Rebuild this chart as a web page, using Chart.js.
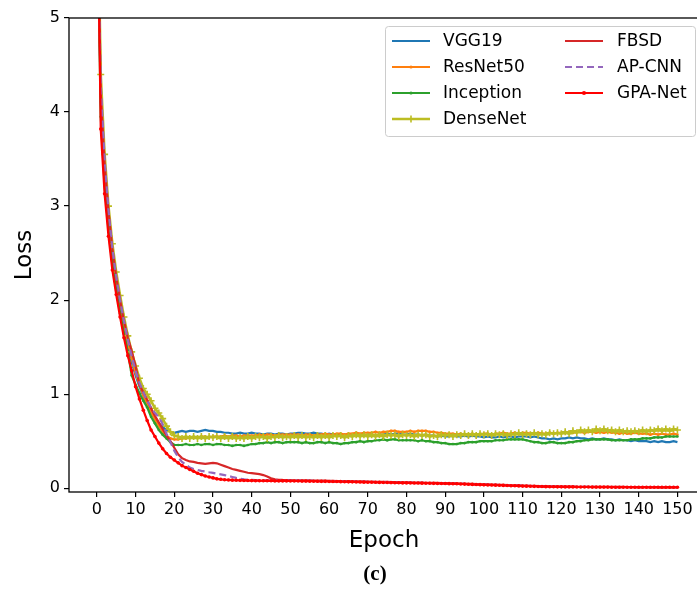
<!DOCTYPE html>
<html>
<head>
<meta charset="utf-8">
<script src="https://cdn.jsdelivr.net/npm/chart.js@4.4.1/dist/chart.umd.min.js"></script>
<style>
  html, body { margin: 0; padding: 0; background: #fff; overflow: hidden; }
  #wrap { width: 697px; height: 597px; overflow: hidden; }
</style>
</head>
<body>
<div id="wrap"><canvas id="c" width="720" height="597"></canvas></div>
<script>
// epochs 0..150
const epochs = Array.from({ length: 151 }, (_, i) => i);
const xTicks = [0, 10, 20, 30, 40, 50, 60, 70, 80, 90, 100, 110, 120, 130, 140, 150];
const yTicks = [0, 1, 2, 3, 4, 5];

const vgg19 = [
  6.6, 4.1, 3.35, 2.85, 2.45, 2.15, 1.9, 1.68, 1.50, 1.34, 1.20, 1.08, 0.98, 0.89, 0.81, 0.74, 0.69, 0.65, 0.62, 0.60, 0.59,
  0.60, 0.61, 0.60, 0.61, 0.61, 0.60, 0.61, 0.62, 0.61, 0.61,
  0.60, 0.60, 0.59, 0.59, 0.58, 0.58, 0.59, 0.58, 0.58, 0.59,
  0.58, 0.58, 0.57, 0.58, 0.58, 0.57, 0.58, 0.58, 0.57, 0.58,
  0.58, 0.59, 0.59, 0.58, 0.58, 0.59, 0.58, 0.58, 0.57, 0.58,
  0.57, 0.57, 0.56, 0.57, 0.56, 0.56, 0.57, 0.57, 0.56, 0.57,
  0.57, 0.56, 0.57, 0.57, 0.58, 0.57, 0.58, 0.58, 0.57, 0.57,
  0.58, 0.57, 0.57, 0.56, 0.57, 0.56, 0.56, 0.55, 0.56, 0.55,
  0.55, 0.56, 0.55, 0.55, 0.56, 0.55, 0.56, 0.55, 0.55, 0.54,
  0.55, 0.54, 0.54, 0.55, 0.54, 0.55, 0.55, 0.54, 0.55, 0.55,
  0.55, 0.54, 0.55, 0.54, 0.53, 0.53, 0.52, 0.53, 0.52, 0.53,
  0.53, 0.54, 0.53, 0.54, 0.53, 0.53, 0.52, 0.53, 0.52, 0.52,
  0.53, 0.52, 0.52, 0.51, 0.52, 0.51, 0.51, 0.50, 0.51, 0.50,
  0.50, 0.50, 0.49, 0.50, 0.49, 0.50, 0.49, 0.49, 0.50, 0.49
];

const resnet50 = [
  6.7, 4.25, 3.45, 2.92, 2.52, 2.22, 1.96, 1.74, 1.55, 1.38, 1.23, 1.10, 0.99, 0.90, 0.81, 0.73, 0.66, 0.60, 0.56, 0.53, 0.52,
  0.52, 0.53, 0.53, 0.54, 0.54, 0.54, 0.55, 0.55, 0.54, 0.55,
  0.55, 0.55, 0.56, 0.55, 0.56, 0.56, 0.55, 0.56, 0.56, 0.56,
  0.56, 0.57, 0.56, 0.57, 0.57, 0.56, 0.57, 0.57, 0.57, 0.57,
  0.57, 0.57, 0.56, 0.57, 0.57, 0.56, 0.57, 0.57, 0.58, 0.57,
  0.57, 0.58, 0.58, 0.57, 0.58, 0.58, 0.59, 0.58, 0.59, 0.59,
  0.59, 0.60, 0.59, 0.60, 0.60, 0.61, 0.61, 0.60, 0.60, 0.60,
  0.61, 0.60, 0.61, 0.61, 0.61, 0.60, 0.60, 0.59, 0.59, 0.58,
  0.58, 0.58, 0.57, 0.58, 0.57, 0.57, 0.58, 0.57, 0.57, 0.58,
  0.58, 0.57, 0.58, 0.58, 0.59, 0.58, 0.58, 0.59, 0.58, 0.59,
  0.59, 0.58, 0.58, 0.59, 0.58, 0.58, 0.59, 0.58, 0.59, 0.59,
  0.59, 0.60, 0.59, 0.60, 0.60, 0.59, 0.60, 0.60, 0.59, 0.60,
  0.59, 0.60, 0.59, 0.59, 0.58, 0.59, 0.58, 0.58, 0.59, 0.58,
  0.58, 0.58, 0.57, 0.58, 0.57, 0.58, 0.57, 0.57, 0.58, 0.57
];

const inception = [
  6.4, 3.95, 3.22, 2.75, 2.38, 2.1, 1.86, 1.64, 1.45, 1.20, 1.10, 1.01, 0.93, 0.86, 0.76, 0.69, 0.62, 0.57, 0.53, 0.49, 0.46,
  0.46, 0.46, 0.47, 0.46, 0.46, 0.47, 0.46, 0.47, 0.47, 0.46,
  0.47, 0.47, 0.46, 0.46, 0.45, 0.46, 0.46, 0.45, 0.46, 0.47,
  0.47, 0.48, 0.48, 0.49, 0.48, 0.49, 0.49, 0.48, 0.49, 0.49,
  0.49, 0.49, 0.48, 0.49, 0.48, 0.48, 0.49, 0.49, 0.48, 0.49,
  0.48, 0.48, 0.47, 0.48, 0.48, 0.49, 0.49, 0.50, 0.49, 0.50,
  0.50, 0.51, 0.51, 0.52, 0.51, 0.52, 0.52, 0.51, 0.51, 0.51,
  0.51, 0.51, 0.50, 0.51, 0.50, 0.50, 0.49, 0.49, 0.48, 0.48,
  0.47, 0.47, 0.47, 0.48, 0.48, 0.49, 0.49, 0.49, 0.50, 0.50,
  0.50, 0.50, 0.51, 0.51, 0.51, 0.52, 0.52, 0.52, 0.52, 0.52,
  0.51, 0.50, 0.49, 0.49, 0.48, 0.48, 0.49, 0.49, 0.48, 0.48,
  0.48, 0.49, 0.49, 0.50, 0.50, 0.51, 0.51, 0.52, 0.52, 0.52,
  0.52, 0.52, 0.51, 0.51, 0.51, 0.51, 0.51, 0.52, 0.52, 0.52,
  0.53, 0.53, 0.53, 0.54, 0.54, 0.54, 0.55, 0.55, 0.55, 0.55
];

const densenet = [
  6.8, 4.4, 3.55, 3.0, 2.6, 2.3, 2.05, 1.82, 1.62, 1.45, 1.30, 1.17, 1.06, 1.0, 0.93, 0.85, 0.80, 0.74, 0.66, 0.60, 0.56,
  0.55, 0.53, 0.55, 0.53, 0.55, 0.53, 0.55, 0.53, 0.55, 0.54,
  0.55, 0.53, 0.55, 0.53, 0.55, 0.53, 0.54, 0.53, 0.55, 0.53,
  0.55, 0.54, 0.55, 0.53, 0.55, 0.54, 0.56, 0.54, 0.55, 0.54,
  0.56, 0.54, 0.56, 0.54, 0.55, 0.54, 0.56, 0.54, 0.56, 0.54,
  0.56, 0.55, 0.56, 0.54, 0.56, 0.55, 0.57, 0.55, 0.57, 0.55,
  0.57, 0.55, 0.57, 0.55, 0.57, 0.56, 0.57, 0.55, 0.57, 0.56,
  0.57, 0.55, 0.57, 0.56, 0.57, 0.55, 0.56, 0.55, 0.57, 0.56,
  0.57, 0.55, 0.57, 0.56, 0.58, 0.56, 0.58, 0.56, 0.58, 0.57,
  0.58, 0.56, 0.58, 0.57, 0.58, 0.56, 0.58, 0.57, 0.59, 0.57,
  0.58, 0.57, 0.59, 0.57, 0.58, 0.57, 0.59, 0.58, 0.59, 0.58,
  0.60, 0.58, 0.61, 0.59, 0.62, 0.60, 0.62, 0.60, 0.63, 0.61,
  0.63, 0.61, 0.62, 0.60, 0.62, 0.60, 0.61, 0.60, 0.61, 0.60,
  0.62, 0.60, 0.62, 0.61, 0.63, 0.61, 0.63, 0.61, 0.63, 0.62
];

const fbsd = [
  6.5, 4.2, 3.45, 2.95, 2.55, 2.25, 2.0, 1.78, 1.60, 1.46,
  1.30, 1.10, 1.02, 0.94, 0.85, 0.77, 0.70, 0.63, 0.56, 0.50,
  0.43, 0.36, 0.32, 0.30, 0.285, 0.28, 0.27, 0.265, 0.26, 0.265,
  0.27, 0.265, 0.25, 0.235, 0.22, 0.205, 0.195, 0.185, 0.175, 0.165,
  0.16, 0.155, 0.15, 0.14, 0.125, 0.105, 0.095, 0.09, 0.088, 0.087, 0.086,
  0.085, 0.085, 0.084, 0.083, 0.083, 0.082, 0.081, 0.080, 0.080, 0.079,
  0.078, 0.077, 0.077, 0.076, 0.075, 0.074, 0.073, 0.073, 0.072, 0.071,
  0.070, 0.069, 0.068, 0.068, 0.067, 0.066, 0.065, 0.064, 0.063, 0.062,
  0.062, 0.061, 0.060, 0.059, 0.058, 0.057, 0.057, 0.056, 0.055, 0.054,
  0.053, 0.052, 0.051, 0.050, 0.049, 0.047, 0.046, 0.045, 0.043, 0.042,
  0.041, 0.039, 0.038, 0.036, 0.035, 0.034, 0.032, 0.031, 0.030, 0.028,
  0.027, 0.026, 0.025, 0.024, 0.023, 0.022, 0.021, 0.020, 0.019, 0.018,
  0.018, 0.017, 0.017, 0.016, 0.016, 0.016, 0.015, 0.015, 0.015, 0.015,
  0.014, 0.014, 0.014, 0.014, 0.014, 0.014, 0.013, 0.013, 0.013, 0.013,
  0.013, 0.013, 0.013, 0.013, 0.012, 0.012, 0.012, 0.012, 0.012, 0.012
];

const apcnn = [
  6.6, 4.3, 3.5, 2.95, 2.55, 2.25, 2.0, 1.78, 1.58, 1.40,
  1.25, 1.12, 1.02, 0.93, 0.86, 0.80, 0.76, 0.68, 0.58, 0.49,
  0.40, 0.33, 0.28, 0.25, 0.22, 0.205, 0.195, 0.185, 0.178, 0.17,
  0.163, 0.155, 0.148, 0.14, 0.13, 0.12, 0.11, 0.102, 0.095, 0.09, 0.088,
  0.086, 0.085, 0.084, 0.084, 0.083, 0.083, 0.082, 0.082, 0.081, 0.081,
  0.080, 0.080, 0.079, 0.079, 0.078, 0.078, 0.077, 0.076, 0.076, 0.075,
  0.074, 0.074, 0.073, 0.072, 0.071, 0.071, 0.070, 0.069, 0.068, 0.067,
  0.067, 0.066, 0.065, 0.064, 0.064, 0.063, 0.062, 0.061, 0.060, 0.060,
  0.059, 0.058, 0.057, 0.057, 0.056, 0.055, 0.054, 0.054, 0.053, 0.052,
  0.051, 0.050, 0.049, 0.048, 0.046, 0.045, 0.043, 0.042, 0.040, 0.039,
  0.038, 0.036, 0.035, 0.034, 0.032, 0.031, 0.030, 0.028, 0.027, 0.026,
  0.025, 0.024, 0.022, 0.021, 0.020, 0.019, 0.018, 0.018, 0.017, 0.016,
  0.016, 0.015, 0.015, 0.015, 0.014, 0.014, 0.014, 0.014, 0.013, 0.013,
  0.013, 0.013, 0.013, 0.012, 0.012, 0.012, 0.012, 0.012, 0.012, 0.012,
  0.011, 0.011, 0.011, 0.011, 0.011, 0.011, 0.011, 0.011, 0.011, 0.011
];

const gpanet = [
  6.8, 3.82, 3.13, 2.68, 2.32, 2.06, 1.82, 1.60, 1.41, 1.25,
  1.08, 0.95, 0.83, 0.72, 0.62, 0.55, 0.48, 0.42, 0.37, 0.33,
  0.30, 0.27, 0.24, 0.22, 0.20, 0.18, 0.16, 0.145, 0.13, 0.12,
  0.11, 0.10, 0.095, 0.09, 0.088, 0.086, 0.085, 0.084, 0.083, 0.082, 0.081,
  0.080, 0.080, 0.079, 0.079, 0.079, 0.078, 0.078, 0.078, 0.078, 0.077,
  0.077, 0.077, 0.076, 0.076, 0.075, 0.075, 0.074, 0.073, 0.073, 0.072,
  0.071, 0.071, 0.070, 0.069, 0.068, 0.068, 0.067, 0.066, 0.065, 0.064,
  0.064, 0.063, 0.062, 0.061, 0.061, 0.060, 0.059, 0.058, 0.057, 0.057,
  0.056, 0.055, 0.055, 0.054, 0.053, 0.053, 0.052, 0.051, 0.051, 0.050,
  0.049, 0.048, 0.047, 0.045, 0.044, 0.042, 0.041, 0.039, 0.038, 0.036,
  0.035, 0.034, 0.033, 0.032, 0.030, 0.029, 0.027, 0.026, 0.025, 0.023,
  0.022, 0.021, 0.020, 0.019, 0.018, 0.017, 0.016, 0.016, 0.015, 0.015,
  0.014, 0.014, 0.014, 0.013, 0.013, 0.013, 0.013, 0.012, 0.012, 0.012,
  0.012, 0.012, 0.011, 0.011, 0.011, 0.011, 0.011, 0.011, 0.010, 0.010,
  0.010, 0.010, 0.010, 0.010, 0.010, 0.010, 0.010, 0.010, 0.010, 0.010
];

const FONT = "'DejaVu Sans', sans-serif";

const series = [
  { label: "VGG19",     data: vgg19,     color: "#1f77b4", width: 2.2, marker: null },
  { label: "ResNet50",  data: resnet50,  color: "#ff7f0e", width: 2.2, marker: "circle", r: 1.3 },
  { label: "Inception", data: inception, color: "#2ca02c", width: 2.2, marker: "circle", r: 1.3 },
  { label: "DenseNet",  data: densenet,  color: "#bcbd22", width: 2.6, marker: "cross", r: 3.5 },
  { label: "FBSD",      data: fbsd,      color: "#d62728", width: 2.2, marker: null },
  { label: "AP-CNN",    data: apcnn,     color: "#9467bd", width: 2.2, marker: null, dash: [7, 4] },
  { label: "GPA-Net",   data: gpanet,    color: "#ff0000", width: 2.2, marker: "circle", r: 1.8 },
];

// later series drawn on top, like matplotlib
const datasets = series.slice().reverse().map(s => ({
  label: s.label,
  data: s.data.map((v, i) => ({ x: epochs[i], y: v })),
  borderColor: s.color,
  backgroundColor: s.color,
  borderWidth: s.width,
  borderDash: s.dash || [],
  pointStyle: s.marker || "circle",
  pointRadius: s.marker ? s.r : 0,
  pointBorderWidth: s.marker === "cross" ? 1.6 : 0,
  pointBorderColor: s.color,
  pointBackgroundColor: s.color,
  tension: 0,
}));

const decor = {
  id: "decor",
  afterDraw(chart) {
    const { ctx, chartArea: a } = chart;
    ctx.save();
    // axes box; the canvas is wider than the window so the right spine is cut off
    ctx.strokeStyle = "#000";
    ctx.lineWidth = 1.3;
    ctx.strokeRect(a.left, a.top, a.right - a.left, a.bottom - a.top);

    // axis titles
    ctx.fillStyle = "#000";
    ctx.font = `23px ${FONT}`;
    ctx.textAlign = "center";
    ctx.textBaseline = "middle";
    ctx.fillText("Epoch", 384, 541);
    ctx.save();
    ctx.translate(25, 255);
    ctx.rotate(-Math.PI / 2);
    ctx.fillText("Loss", 0, 0);
    ctx.restore();
    ctx.font = "bold 21px 'Liberation Serif', 'DejaVu Serif', serif";
    ctx.fillText("(c)", 375, 575);

    // legend, two columns
    const bx = 385, by = 26, bw = 310, bh = 110;
    ctx.fillStyle = "rgba(255,255,255,0.85)";
    ctx.strokeStyle = "#cccccc";
    ctx.lineWidth = 1;
    ctx.beginPath();
    ctx.roundRect(bx + 0.5, by + 0.5, bw, bh, 3);
    ctx.fill();
    ctx.stroke();

    const rows = [41, 67, 93, 119];
    const cols = [{ x0: 392, x1: 430, tx: 443 }, { x0: 565, x1: 603, tx: 617 }];
    series.forEach((s, i) => {
      const col = cols[i < 4 ? 0 : 1];
      const y = rows[i < 4 ? i : i - 4];
      ctx.strokeStyle = s.color;
      ctx.lineWidth = s.width;
      ctx.setLineDash(s.dash || []);
      ctx.beginPath();
      ctx.moveTo(col.x0, y);
      ctx.lineTo(col.x1, y);
      ctx.stroke();
      ctx.setLineDash([]);
      const mx = (col.x0 + col.x1) / 2;
      if (s.marker === "circle") {
        ctx.fillStyle = s.color;
        ctx.beginPath();
        ctx.arc(mx, y, s.r + 0.3, 0, Math.PI * 2);
        ctx.fill();
      } else if (s.marker === "cross") {
        ctx.lineWidth = 1.6;
        ctx.beginPath();
        ctx.moveTo(mx - 3.5, y); ctx.lineTo(mx + 3.5, y);
        ctx.moveTo(mx, y - 3.5); ctx.lineTo(mx, y + 3.5);
        ctx.stroke();
      }
      ctx.fillStyle = "#000";
      ctx.font = `17px ${FONT}`;
      ctx.textAlign = "left";
      ctx.textBaseline = "middle";
      ctx.fillText(s.label, col.tx, y + 1);
    });
    ctx.restore();
  }
};

new Chart(document.getElementById("c"), {
  type: "line",
  data: { datasets },
  plugins: [decor],
  options: {
    responsive: false,
    animation: false,
    layout: { padding: { top: 18, right: 0, left: 0, bottom: 0 } },
    plugins: { legend: { display: false }, tooltip: { enabled: false } },
    scales: {
      x: {
        type: "linear",
        min: -7.2,
        max: 159.55,
        afterBuildTicks: scale => { scale.ticks = xTicks.map(v => ({ value: v })); },
        afterFit: scale => { scale.height = 105; },
        ticks: { color: "#000", font: { family: FONT, size: 16 }, padding: 3, maxRotation: 0, autoSkip: false },
        grid: { display: true, drawOnChartArea: false, drawTicks: true, tickLength: 5, color: "#000", lineWidth: 1.2 },
        border: { display: false },
      },
      y: {
        type: "linear",
        min: -0.04,
        max: 5,
        afterBuildTicks: scale => { scale.ticks = yTicks.map(v => ({ value: v })); },
        afterFit: scale => { scale.width = 69; },
        ticks: { color: "#000", font: { family: FONT, size: 16 }, padding: 4 },
        grid: { display: true, drawOnChartArea: false, drawTicks: true, tickLength: 5, color: "#000", lineWidth: 1.2 },
        border: { display: false },
      },
    },
  },
});
</script>
</body>
</html>
